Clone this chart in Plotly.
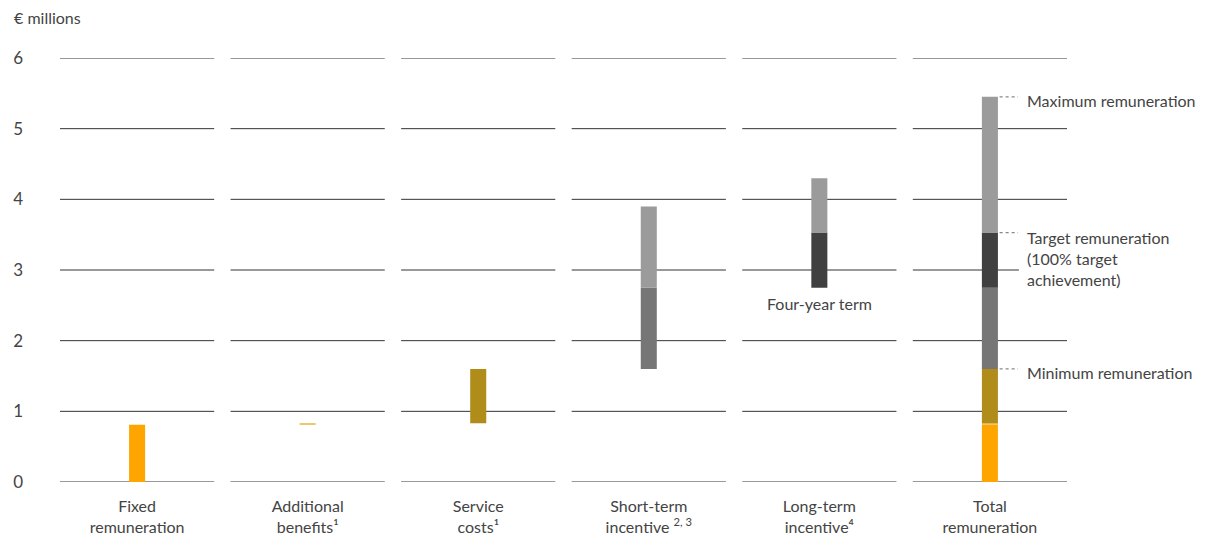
import plotly.graph_objects as go

# ---------------- data ----------------
categories = ["Fixed<br>remuneration", "Additional<br>benefits¹", "Service<br>costs¹",
              "Short-term<br>incentive <sup>2, 3</sup>", "Long-term<br>incentive⁴", "Total<br>remuneration"]
y_ticks = [0, 1, 2, 3, 4, 5, 6]

fixed_remuneration = 0.81
additional_benefits = 0.02
service_costs = 0.77
sti_target = 1.15
sti_above_target = 1.15
lti_target = 0.78
lti_above_target = 0.77

colors = {
    "fixed": "#FFA500",
    "benefits": "#E8C86A",
    "service": "#B08C1A",
    "sti": "#767676",
    "lti": "#404040",
    "max": "#9B9B9B",
}

# derived levels
lvl_fixed = fixed_remuneration
lvl_benefits = lvl_fixed + additional_benefits
minimum = lvl_benefits + service_costs
lvl_sti_target = minimum + sti_target
target = lvl_sti_target + lti_target
maximum = target + sti_above_target + lti_above_target

idx = list(range(len(categories)))
TOTAL = idx[-1]
BAR_W = 0.094
HALF_SEG = 0.452

fig = go.Figure()

def seg(xs, bases, heights, color):
    fig.add_trace(go.Bar(x=xs, y=heights, base=bases, width=BAR_W,
                         marker=dict(color=color, line=dict(width=0)),
                         showlegend=False, hoverinfo="skip"))

seg([0, TOTAL], [0, 0], [fixed_remuneration] * 2, colors["fixed"])
seg([1, TOTAL], [lvl_fixed] * 2, [additional_benefits] * 2, colors["benefits"])
seg([2, TOTAL], [lvl_benefits] * 2, [service_costs] * 2, colors["service"])
seg([3, TOTAL], [minimum] * 2, [sti_target] * 2, colors["sti"])
seg([4, TOTAL], [lvl_sti_target] * 2, [lti_target] * 2, colors["lti"])
seg([3, 4, TOTAL], [lvl_sti_target, target, target],
    [sti_above_target, lti_above_target, sti_above_target + lti_above_target], colors["max"])

# segmented gridlines
shapes = []
for i in idx:
    for t in y_ticks:
        x1 = i + HALF_SEG
        if i == TOTAL and t == 3:
            x1 = i + 0.17
        shapes.append(dict(type="line", xref="x", yref="y", x0=i - HALF_SEG, x1=x1,
                           y0=t, y1=t, line=dict(color="#333333", width=1), layer="below"))

FONT_FAMILY = "Lato, 'Open Sans', sans-serif"
font_main = dict(family=FONT_FAMILY, size=16, color="#444444")

# dotted leaders on total bar
ANN_X = TOTAL + 0.205
annotations = []
for lvl, label in [(maximum, "Maximum remuneration"),
                   (target, "Target remuneration<br>(100% target<br>achievement)"),
                   (minimum, "Minimum remuneration")]:
    shapes.append(dict(type="line", xref="x", yref="y", x0=TOTAL + BAR_W / 2 + 0.01,
                       x1=TOTAL + 0.165, y0=lvl, y1=lvl,
                       line=dict(color="#888888", width=1.3, dash="dot")))
    multi = "<br>" in label
    annotations.append(dict(x=ANN_X, y=lvl, xref="x", yref="y", text=label, showarrow=False,
                            xanchor="left", yanchor="top" if multi else "middle",
                            yshift=7 if multi else -4,
                            align="left", font=font_main))

annotations.append(dict(x=4, y=2.52, xref="x", yref="y", text="Four-year term", showarrow=False,
                        xanchor="center", yanchor="middle", font=font_main))

L, R, T, B = 60, 1067, 58, 482
annotations.append(dict(x=(12 - L) / (R - L), y=(B - 17) / (B - T), xref="paper", yref="paper",
                        text="€ millions", showarrow=False, xanchor="left", yanchor="middle",
                        font=font_main))

fig.update_layout(
    width=1215, height=535,
    margin=dict(l=L, r=1215 - R, t=T, b=535 - B, pad=0, autoexpand=False),
    paper_bgcolor="white", plot_bgcolor="white",
    barmode="overlay",
    shapes=shapes, annotations=annotations,
    xaxis=dict(range=[-HALF_SEG, TOTAL + HALF_SEG], tickmode="array", tickvals=idx,
               ticktext=categories, showgrid=False, zeroline=False, showline=False,
               ticks="", ticklabelstandoff=13, tickfont=font_main, fixedrange=True,
               automargin=False),
    yaxis=dict(range=[0, 6], tickmode="array", tickvals=y_ticks,
               ticktext=[str(t) for t in y_ticks], showgrid=False, zeroline=False,
               showline=False, ticks="", ticklabelstandoff=36,
               tickfont=dict(family=FONT_FAMILY, size=17, color="#444444"),
               fixedrange=True, automargin=False),
    font=font_main,
)

fig.write_html("out.html")
